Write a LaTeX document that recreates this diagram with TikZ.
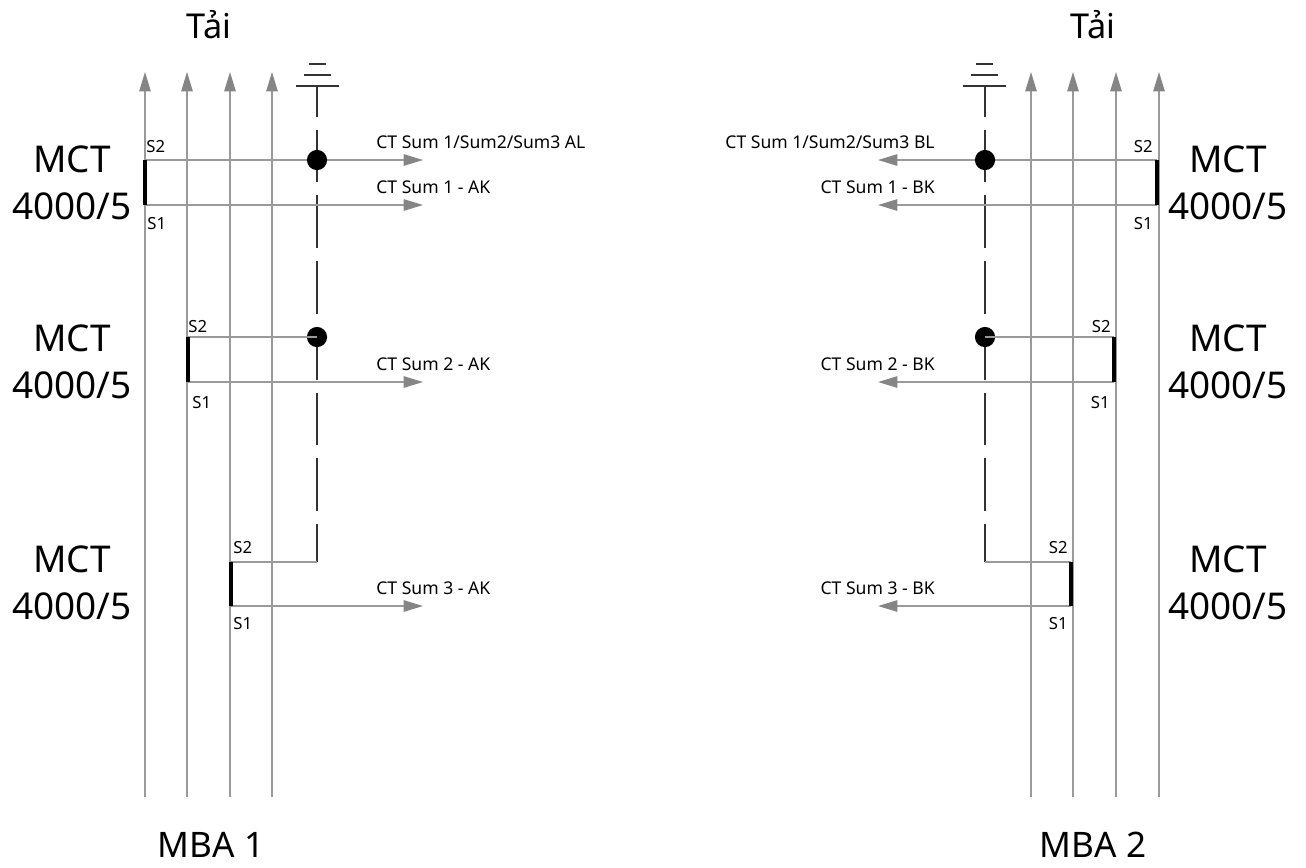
\documentclass[tikz,border=0pt]{standalone}
\usepackage{fontspec}
\setmainfont{Noto Sans}
\usetikzlibrary{arrows.meta}
\definecolor{wiregray}{HTML}{9A9A9A}
\definecolor{headgray}{HTML}{858585}
\definecolor{gnddark}{HTML}{333333}
\begin{document}
\begin{tikzpicture}[x=0.02cm,y=-0.02cm,
  wire/.style={draw=wiregray, line width=0.8pt},
  feed/.style={wire, -{Triangle[length=11pt,width=6.5pt,color=headgray]}},
  ctbar/.style={draw=black, line width=2.8pt},
  gndline/.style={draw=gnddark, line width=0.7pt},
  gnddash/.style={gndline, dash pattern=on 30pt off 7.4pt, dash phase=12.5pt},
  junction/.style={circle, fill=black, inner sep=0pt, minimum size=11.5pt},
  mct/.style={font=\fontsize{21}{26.6}\selectfont, align=center, inner sep=0pt},
  bigtxt/.style={font=\fontsize{19.5}{22}\selectfont, inner sep=0pt},
  mbatxt/.style={font=\fontsize{20}{24}\selectfont, inner sep=0pt},
  slab/.style={font=\fontsize{9.5}{11}\selectfont, inner sep=0pt},
  ctlab/.style={font=\fontsize{10}{12}\selectfont, inner sep=0pt}
]
\useasboundingbox (0,0) rectangle (1306,867);

% ================= LEFT (MBA 1) =================
\coordinate (LAb) at (145,797); \coordinate (LAt) at (145,72);
\coordinate (LBb) at (187,797); \coordinate (LBt) at (187,72);
\coordinate (LCb) at (230,797); \coordinate (LCt) at (230,72);
\coordinate (LDb) at (272,797); \coordinate (LDt) at (272,72);
\draw[feed] (LAb) -- (LAt);
\draw[feed] (LBb) -- (LBt);
\draw[feed] (LCb) -- (LCt);
\draw[feed] (LDb) -- (LDt);

% ground
\coordinate (LG) at (317,86);
\draw[gndline] (296,86) -- (339,86);
\draw[gndline] (304,75) -- (331,75);
\draw[gndline] (309,64) -- (326,64);
\coordinate (L3c) at (317,562);
\draw[gnddash] (LG) -- (L3c);

% CT 1
\coordinate (L1s2) at (145,160); \coordinate (L1s1) at (145,205);
\coordinate (L1a) at (423,160); \coordinate (L1b) at (423,205);
\draw[feed] (L1s2) -- (L1a);
\draw[feed] (L1s1) -- (L1b);
\draw[ctbar] (L1s2) -- (L1s1);
\node[junction] (LJ1) at (317,160) {};
\node[slab, anchor=base west] (L1t2) at (146,152) {S2};
\node[slab, anchor=base west] (L1t1) at (147,229) {S1};
\node[ctlab, anchor=base west] (L1la) at (376,148) {CT Sum 1/Sum2/Sum3 AL};
\node[ctlab, anchor=base west] (L1lb) at (376,193) {CT Sum 1 - AK};
\node[mct] (LM1) at (72,183) {MCT\\4000/5};

% CT 2
\coordinate (L2s2) at (188,337); \coordinate (L2s1) at (188,382);
\coordinate (L2b) at (423,382);
\node[junction] (LJ2) at (317,337) {};
\draw[wire] (L2s2) -- (LJ2.center);
\draw[feed] (L2s1) -- (L2b);
\draw[ctbar] (L2s2) -- (L2s1);
\node[slab, anchor=base west] (L2t2) at (188,332) {S2};
\node[slab, anchor=base west] (L2t1) at (192,408) {S1};
\node[ctlab, anchor=base west] (L2lb) at (376,370) {CT Sum 2 - AK};
\node[mct] (LM2) at (72,362) {MCT\\4000/5};

% CT 3
\coordinate (L3s2) at (231,562); \coordinate (L3s1) at (231,606);
\coordinate (L3b) at (423,606);
\draw[wire] (L3s2) -- (L3c);
\draw[feed] (L3s1) -- (L3b);
\draw[ctbar] (L3s2) -- (L3s1);
\node[slab, anchor=base west] (L3t2) at (233,553) {S2};
\node[slab, anchor=base west] (L3t1) at (233,629) {S1};
\node[ctlab, anchor=base west] (L3lb) at (376,594) {CT Sum 3 - AK};
\node[mct] (LM3) at (72,583) {MCT\\4000/5};

\node[bigtxt, anchor=base] (LT) at (209,38) {Tải};
\node[mbatxt, anchor=base] (LMBA) at (211,857) {MBA 1};

% ================= RIGHT (MBA 2) =================
\coordinate (RAb) at (1031,797); \coordinate (RAt) at (1031,72);
\coordinate (RBb) at (1073,797); \coordinate (RBt) at (1073,72);
\coordinate (RCb) at (1116,797); \coordinate (RCt) at (1116,72);
\coordinate (RDb) at (1159,797); \coordinate (RDt) at (1159,72);
\draw[feed] (RAb) -- (RAt);
\draw[feed] (RBb) -- (RBt);
\draw[feed] (RCb) -- (RCt);
\draw[feed] (RDb) -- (RDt);

% ground
\coordinate (RG) at (985,86);
\draw[gndline] (963,86) -- (1006,86);
\draw[gndline] (971,75) -- (998,75);
\draw[gndline] (976,64) -- (993,64);
\coordinate (R3c) at (985,562);
\draw[gnddash] (RG) -- (R3c);

% CT 1
\coordinate (R1s2) at (1157,160); \coordinate (R1s1) at (1157,205);
\coordinate (R1a) at (878,160); \coordinate (R1b) at (878,205);
\draw[feed] (R1s2) -- (R1a);
\draw[feed] (R1s1) -- (R1b);
\draw[ctbar] (R1s2) -- (R1s1);
\node[junction] (RJ1) at (985,160) {};
\node[slab, anchor=base east] (R1t2) at (1153,152) {S2};
\node[slab, anchor=base east] (R1t1) at (1153,229) {S1};
\node[ctlab, anchor=base east] (R1la) at (935,148) {CT Sum 1/Sum2/Sum3 BL};
\node[ctlab, anchor=base east] (R1lb) at (935,193) {CT Sum 1 - BK};
\node[mct] (RM1) at (1228,183) {MCT\\4000/5};

% CT 2
\coordinate (R2s2) at (1114,337); \coordinate (R2s1) at (1114,382);
\coordinate (R2b) at (878,382);
\node[junction] (RJ2) at (985,337) {};
\draw[wire] (R2s2) -- (RJ2.center);
\draw[feed] (R2s1) -- (R2b);
\draw[ctbar] (R2s2) -- (R2s1);
\node[slab, anchor=base east] (R2t2) at (1111,332) {S2};
\node[slab, anchor=base east] (R2t1) at (1110,408) {S1};
\node[ctlab, anchor=base east] (R2lb) at (935,370) {CT Sum 2 - BK};
\node[mct] (RM2) at (1228,362) {MCT\\4000/5};

% CT 3
\coordinate (R3s2) at (1071,562); \coordinate (R3s1) at (1071,606);
\coordinate (R3b) at (878,606);
\draw[wire] (R3s2) -- (R3c);
\draw[feed] (R3s1) -- (R3b);
\draw[ctbar] (R3s2) -- (R3s1);
\node[slab, anchor=base east] (R3t2) at (1068,553) {S2};
\node[slab, anchor=base east] (R3t1) at (1068,629) {S1};
\node[ctlab, anchor=base east] (R3lb) at (935,594) {CT Sum 3 - BK};
\node[mct] (RM3) at (1228,583) {MCT\\4000/5};

\node[bigtxt, anchor=base] (RT) at (1093,38) {Tải};
\node[mbatxt, anchor=base] (RMBA) at (1093,857) {MBA 2};
\end{tikzpicture}
\end{document}
